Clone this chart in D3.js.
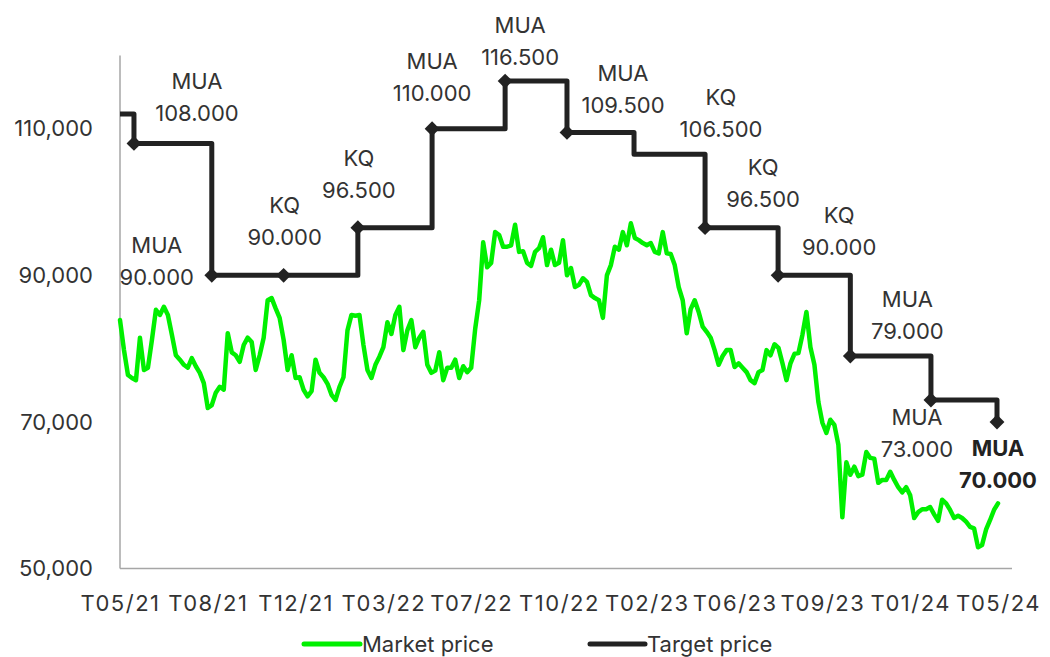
<!DOCTYPE html>
<html>
<head>
<meta charset="utf-8">
<script src="https://cdn.jsdelivr.net/npm/d3@7"></script>
<style>
  html, body { margin: 0; padding: 0; background: #fff; }
  svg { display: block; font-family: Inter, "Noto Sans", sans-serif; }
</style>
</head>
<body>
<svg id="chart" width="1050" height="657"></svg>
<script>
// ---------- DATA ----------
const xTickLabels = ["T05/21","T08/21","T12/21","T03/22","T07/22","T10/22","T02/23","T06/23","T09/23","T01/24","T05/24"];
const xTickIndex = [0,22,44,66,88,110,132,154,176,198,220];
const yTicks = [50000, 70000, 90000, 110000];

// Market price (thousand VND), sampled along the trading-day axis
const marketPrice = [
  83.9,79.8,76.4,76.0,75.7,81.5,77.1,77.4,81.2,85.3,
  84.6,85.7,84.6,81.9,79.1,78.5,77.8,77.4,78.7,77.6,
  76.7,75.3,71.9,72.3,74.0,74.8,74.4,82.1,79.5,79.1,
  78.2,80.5,81.5,80.9,77.1,79.1,81.5,86.6,86.9,85.5,
  84.2,81.2,77.1,79.1,76.0,76.1,74.4,73.5,74.2,78.5,
  76.7,76.1,75.2,73.7,73.0,74.8,76.1,82.5,84.6,84.5,
  84.6,80.5,77.1,76.0,77.8,78.9,80.2,83.6,82.0,84.6,
  85.7,79.8,82.5,83.9,80.2,81.5,82.3,77.8,76.7,77.0,
  79.5,75.7,77.4,77.4,78.5,76.0,77.6,76.8,77.4,82.7,
  86.6,94.5,91.1,91.7,95.9,95.5,93.9,93.9,94.1,96.9,
  93.2,93.3,91.7,91.3,93.2,93.7,95.2,91.4,93.5,91.4,
  91.7,94.8,90.0,91.0,88.4,88.7,89.6,89.1,87.3,86.9,
  86.6,84.2,90.0,91.4,93.9,93.5,95.9,94.1,97.1,95.1,
  94.8,94.4,94.1,94.4,93.2,93.0,95.9,93.0,92.9,91.4,
  88.4,86.6,82.1,85.4,86.6,85.0,83.0,82.3,81.5,79.8,
  77.8,79.0,79.8,79.8,77.5,78.0,77.4,76.8,75.7,75.3,
  76.8,77.1,79.8,79.1,80.6,80.1,78.0,75.7,78.0,79.3,
  79.4,81.9,85.0,80.2,77.8,72.7,69.9,68.5,70.3,69.6,
  66.9,57.0,64.5,62.8,63.9,62.6,62.8,65.9,65.1,65.0,
  61.7,62.1,62.1,63.2,62.1,61.1,60.4,61.1,60.0,56.9,
  57.7,58.1,58.1,58.4,57.4,56.5,59.4,58.9,58.0,56.9,
  57.2,56.9,56.4,55.7,55.5,52.9,53.2,55.3,56.6,58.0,
  58.9
].map(v => v * 1000);

// Target price changes: position on the same trading-day axis, value, recommendation
const targetIndex  = [0, 3.5, 23, 41, 59.6, 78.2, 96.5, 112, 128.8, 146.6, 164.9, 183, 203.2, 219.75];
const targetValue  = [112000,108000,90000,90000,96500,110000,116500,109500,106500,96500,90000,79000,73000,70000];
const targetRating = ["", "MUA","MUA","KQ","KQ","MUA","MUA","MUA","KQ","KQ","KQ","MUA","MUA","MUA"];
const targetMarker = [false,true,true,true,true,true,true,true,false,true,true,true,true,true];

// ---------- LAYOUT ----------
const labelOffset = [null,[63,-62],[-55,-30],[1,-70],[1,-70],[0,-68],[15,-56],[56,-59],[87,-57],[58,-61],[61,-60],[57,-57],[-14,17],[1,26]];
const lineGap = 32;

const svg = d3.select("#chart");
const x = d3.scaleLinear().domain([0, 220]).range([120, 998]);
const y = d3.scaleLinear().domain([50000, 120000]).range([568.6, 55.4]);

const axisColor = "#a6a6a6";
const textColor = "#333";

// axis lines
svg.append("line").attr("x1", 120).attr("x2", 120).attr("y1", y(120000)).attr("y2", y(50000))
  .attr("stroke", axisColor).attr("stroke-width", 1.5);
svg.append("line").attr("x1", 120).attr("x2", 1012).attr("y1", y(50000)).attr("y2", y(50000))
  .attr("stroke", axisColor).attr("stroke-width", 1.5);

// y axis labels
const yAxis = svg.append("g").attr("transform", "translate(120,0)")
  .call(d3.axisLeft(y).tickValues(yTicks).tickSize(0).tickPadding(27).tickFormat(d3.format(",")));
yAxis.select(".domain").remove();
yAxis.selectAll("text").attr("font-size", 22).attr("fill", textColor).attr("font-family", "Inter, sans-serif");

// x axis labels
const xAxis = svg.append("g").attr("transform", `translate(0,${y(50000)})`)
  .call(d3.axisBottom(x).tickValues(xTickIndex).tickSize(0).tickPadding(27)
    .tickFormat((d, i) => xTickLabels[i]));
xAxis.select(".domain").remove();
xAxis.selectAll("text").attr("font-size", 22).attr("letter-spacing", 1.5).attr("fill", textColor).attr("font-family", "Inter, sans-serif");

// market price line
const mLine = d3.line().x((d, i) => x(i)).y(d => y(d)).curve(d3.curveLinear);
svg.append("path").datum(marketPrice).attr("d", mLine)
  .attr("fill", "none").attr("stroke", "#00f000").attr("stroke-width", 4.5)
  .attr("stroke-linejoin", "round").attr("stroke-linecap", "round");

// target price step line
const tData = targetIndex.map((t, i) => ({ t, v: targetValue[i], r: targetRating[i], m: targetMarker[i], o: labelOffset[i], last: i === targetIndex.length - 1 }));
const tLine = d3.line().x(d => x(d.t)).y(d => y(d.v)).curve(d3.curveStepAfter);
svg.append("path").datum(tData).attr("d", tLine)
  .attr("fill", "none").attr("stroke", "#222").attr("stroke-width", 5)
  .attr("stroke-linejoin", "round");

// diamonds
svg.selectAll(".dm").data(tData.filter(d => d.m)).enter().append("path")
  .attr("class", "dm")
  .attr("d", d3.symbol(d3.symbolSquare, 110))
  .attr("transform", d => `translate(${x(d.t)},${y(d.v)}) rotate(45)`)
  .attr("fill", "#222");

// annotations
const ann = svg.selectAll(".ann").data(tData.filter(d => d.o)).enter().append("text")
  .attr("class", "ann")
  .attr("text-anchor", "middle")
  .attr("font-size", 22)
  .attr("fill", d => d.last ? "#222" : textColor)
  .attr("font-weight", d => d.last ? 700 : 400);
ann.append("tspan")
  .attr("x", d => x(d.t) + d.o[0]).attr("y", d => y(d.v) + d.o[1]).attr("dy", "0.36em")
  .text(d => d.r);
ann.append("tspan")
  .attr("x", d => x(d.t) + d.o[0]).attr("y", d => y(d.v) + d.o[1] + lineGap).attr("dy", "0.36em")
  .text(d => (d.v / 1000).toFixed(3));

// legend
const legend = [
  { name: "Market price", color: "#00f000", x0: 304, x1: 360 },
  { name: "Target price", color: "#222", x0: 590, x1: 645 }
];
const lg = svg.selectAll(".lg").data(legend).enter().append("g").attr("class", "lg");
lg.append("line").attr("x1", d => d.x0).attr("x2", d => d.x1).attr("y1", 644).attr("y2", 644)
  .attr("stroke", d => d.color).attr("stroke-width", 5).attr("stroke-linecap", "round");
lg.append("text").attr("x", d => d.x1 + 2).attr("y", 644).attr("dy", "0.36em")
  .attr("font-size", 22).attr("fill", textColor).text(d => d.name);
</script>
</body>
</html>
